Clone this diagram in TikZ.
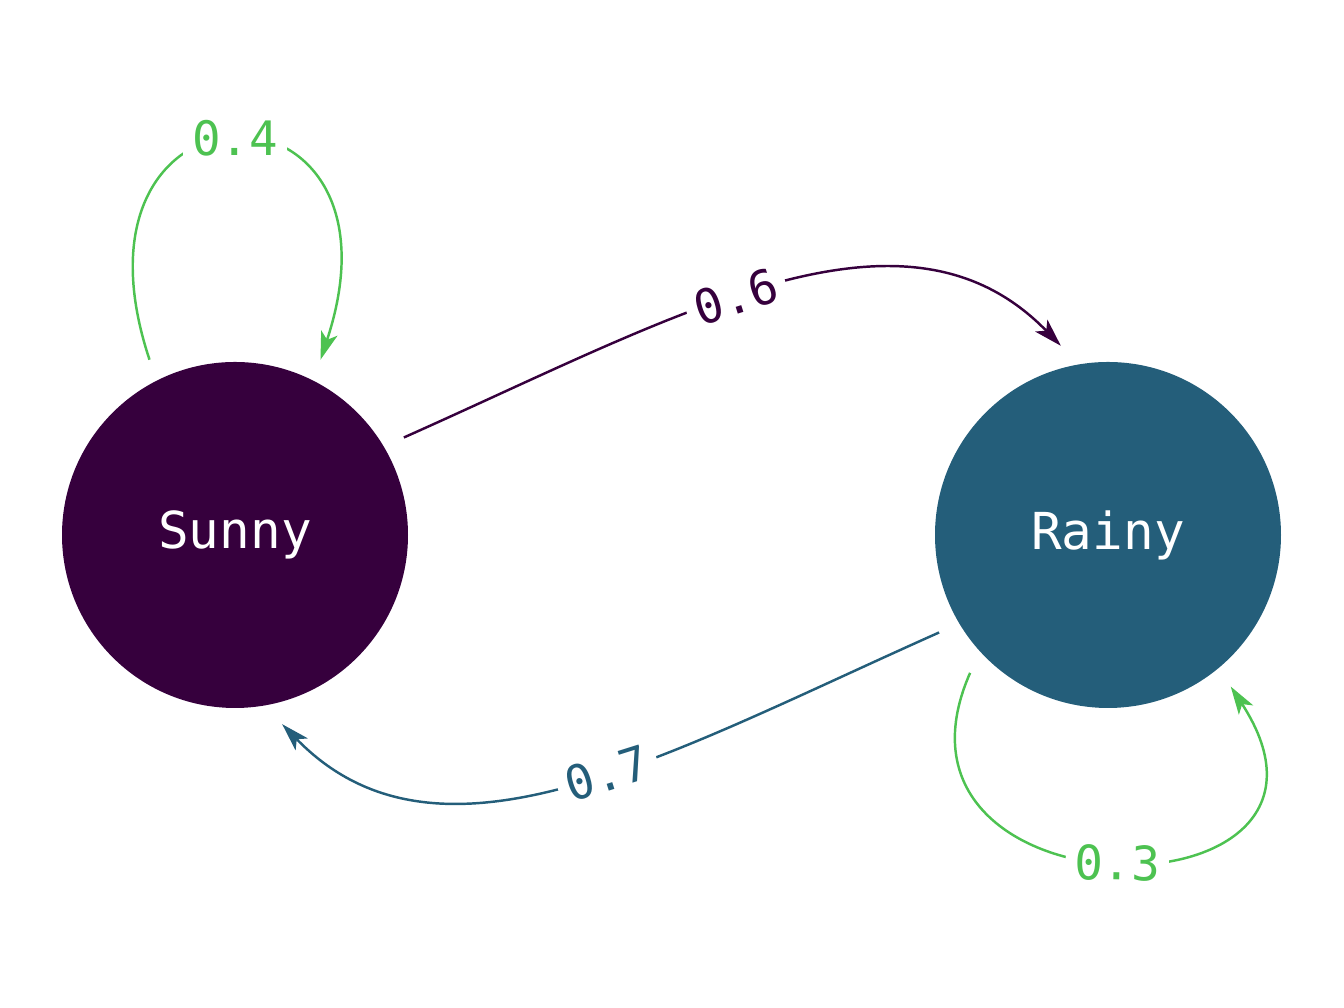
\documentclass[tikz,border=0pt]{standalone}
\usepackage{fontspec}
\setmonofont{DejaVu Sans Mono}
\usepackage{xcolor}
\usetikzlibrary{arrows.meta}
\definecolor{sunnycol}{HTML}{36003D}
\definecolor{rainycol}{HTML}{245E7A}
\definecolor{loopcol}{HTML}{4DC251}
\tikzset{state/.style={circle,draw=none,minimum size=3.46cm,inner sep=0pt,
   outer sep=0.22cm,text=white,font=\ttfamily\fontsize{14.5}{17}\selectfont},
 trans/.style={line width=0.7pt,-{Stealth[length=2.8mm,width=1.7mm,inset=0.7mm]}},
 prob/.style={fill=white,inner sep=2.5pt,sloped,
   font=\ttfamily\fontsize{13.5}{16}\selectfont},
 }

\begin{document}
\begin{tikzpicture}
        \useasboundingbox (0,0) rectangle (13.44,10.08);
        \node[state,fill=sunnycol] (sunny) at (2.35,4.73) {Sunny};
        \node[state,fill=rainycol] (rainy) at (11.08,4.73) {Rainy};
        % between the states
        \draw[trans,sunnycol] (sunny.30) .. controls +(2.74,1.22) and +(-1.57,1.62)
            .. node[prob,pos=0.44,text=sunnycol] {0.6} (rainy.104);
        \draw[trans,rainycol] (rainy.210) .. controls +(-2.74,-1.22) and +(1.57,-1.62)
            .. node[prob,pos=0.44,text=rainycol] {0.7} (sunny.284);
        % self loops
        \draw[trans,loopcol] (sunny.116) .. controls +(-0.98,2.95) and +(0.98,2.95)
            .. node[prob,pos=0.5,text=loopcol] {0.4} (sunny.64);
        \draw[trans,loopcol] (rainy.225) .. controls +(-1.10,-2.50) and +(1.55,-2.38)
            .. node[prob,pos=0.5,text=loopcol] {0.3} (rainy.309);
    \end{tikzpicture}
\end{document}
